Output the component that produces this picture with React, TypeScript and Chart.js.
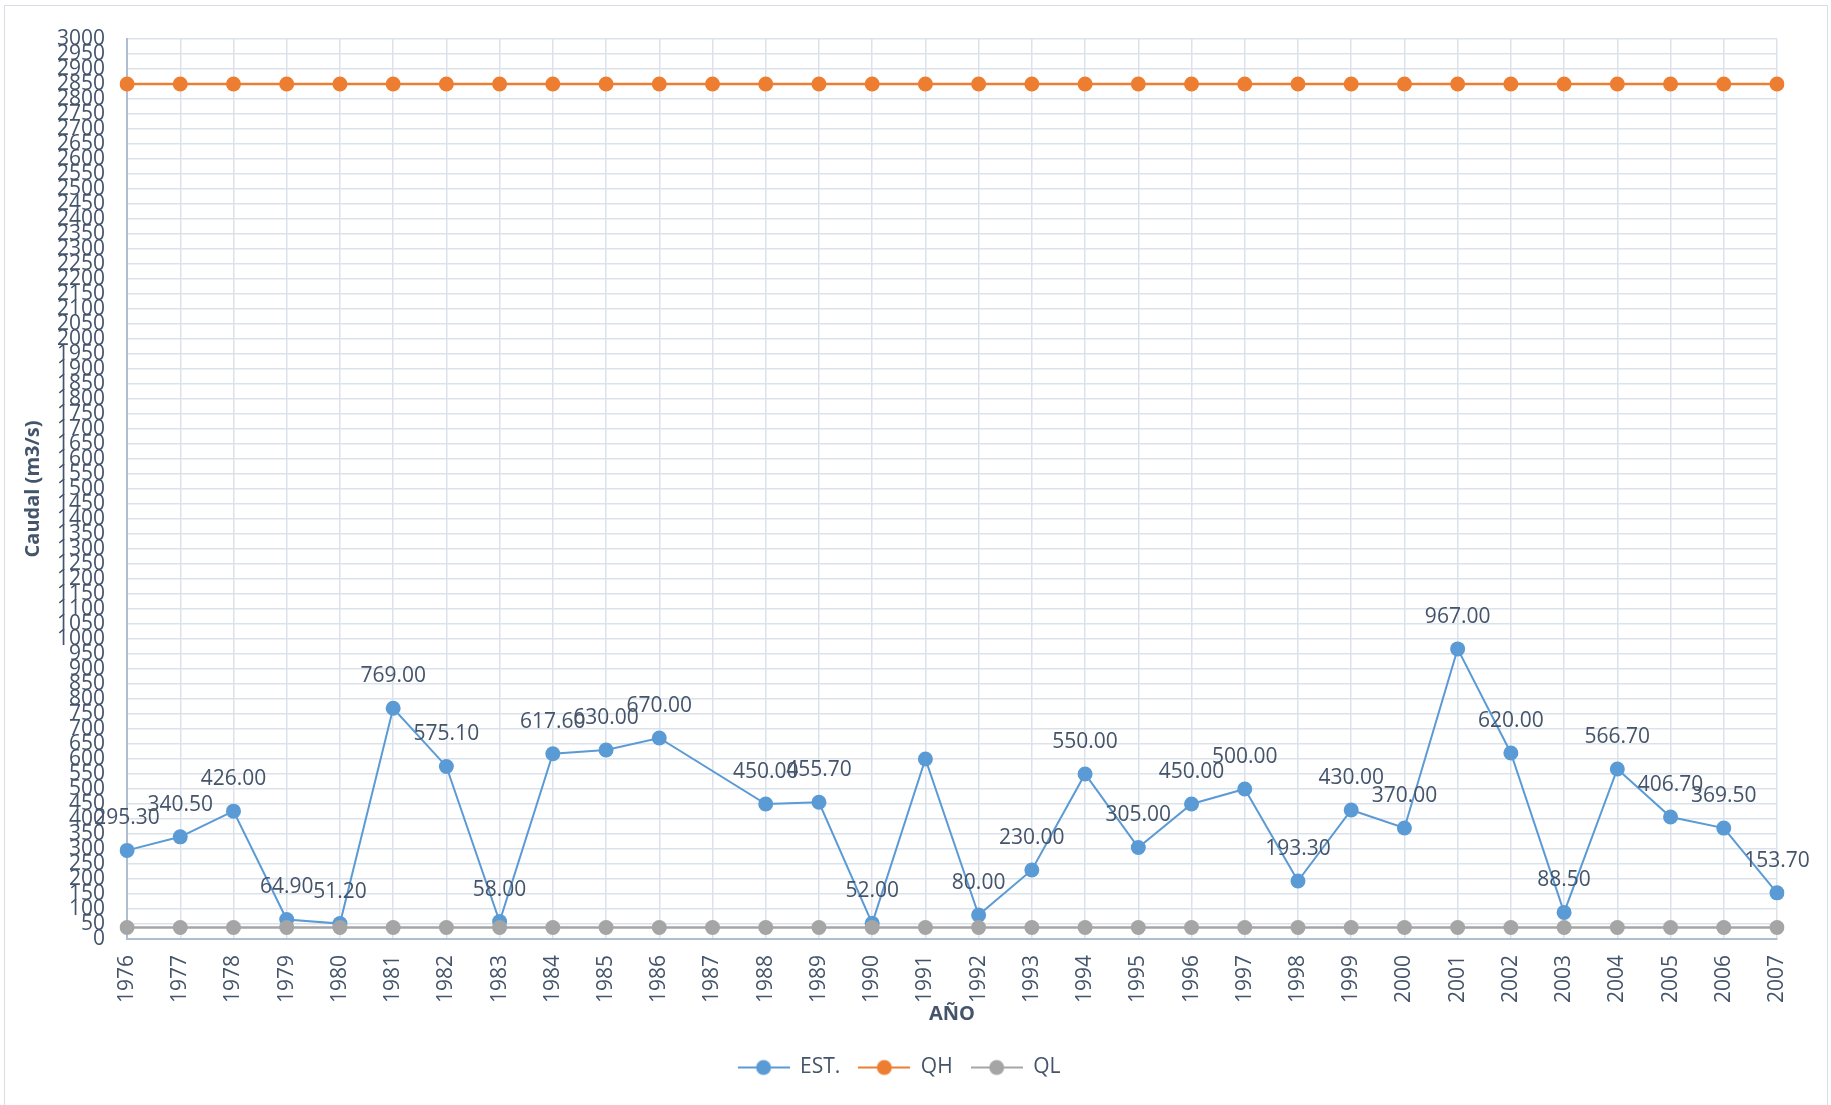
import { useEffect, useRef } from 'react';
import { Chart, registerables } from 'chart.js';

Chart.register(...registerables);

const years = [
  '1976', '1977', '1978', '1979', '1980', '1981', '1982', '1983', '1984', '1985', '1986',
  '1987', '1988', '1989', '1990', '1991', '1992', '1993', '1994', '1995', '1996', '1997',
  '1998', '1999', '2000', '2001', '2002', '2003', '2004', '2005', '2006', '2007',
];

const estValues: (number | null)[] = [
  295.3, 340.5, 426.0, 64.9, 51.2, 769.0, 575.1, 58.0, 617.6, 630.0, 670.0,
  null, 450.0, 455.7, 52.0, 600.0, 80.0, 230.0, 550.0, 305.0, 450.0, 500.0,
  193.3, 430.0, 370.0, 967.0, 620.0, 88.5, 566.7, 406.7, 369.5, 153.7,
];

const qhValues = [
  2850, 2850, 2850, 2850, 2850, 2850, 2850, 2850, 2850, 2850, 2850,
  2850, 2850, 2850, 2850, 2850, 2850, 2850, 2850, 2850, 2850, 2850,
  2850, 2850, 2850, 2850, 2850, 2850, 2850, 2850, 2850, 2850,
];

const qlValues = [
  38, 38, 38, 38, 38, 38, 38, 38, 38, 38, 38,
  38, 38, 38, 38, 38, 38, 38, 38, 38, 38, 38,
  38, 38, 38, 38, 38, 38, 38, 38, 38, 38,
];

const hiddenLabelYears = ['1991'];

const seriesNames = ['EST.', 'QH', 'QL'];
const seriesColors = ['#5b9bd5', '#ed7d31', '#a5a5a5'];

const yMin = 0;
const yMax = 3000;
const yStep = 50;

const yTitle = 'Caudal (m3/s)';
const xTitle = 'AÑO';

const FONT = "'Open Sans', sans-serif";
const TEXT = '#44546a';

function makeLegendIcon(color: string): HTMLCanvasElement {
  const c = document.createElement('canvas');
  c.width = 52;
  c.height = 18;
  const ctx = c.getContext('2d')!;
  ctx.strokeStyle = color;
  ctx.lineWidth = 2;
  ctx.beginPath();
  ctx.moveTo(0, 9);
  ctx.lineTo(52, 9);
  ctx.stroke();
  ctx.fillStyle = color;
  ctx.beginPath();
  ctx.arc(26, 9, 7.5, 0, Math.PI * 2);
  ctx.fill();
  return c;
}

const dataLabelPlugin = {
  id: 'estDataLabels',
  afterDatasetsDraw(chart: any) {
    const meta = chart.getDatasetMeta(0);
    if (!meta || meta.hidden) return;
    const ctx = chart.ctx;
    ctx.save();
    ctx.font = `21px ${FONT}`;
    ctx.fillStyle = TEXT;
    ctx.textAlign = 'center';
    ctx.textBaseline = 'middle';
    meta.data.forEach((pt: any, i: number) => {
      const v = estValues[i];
      if (v === null || v === undefined) return;
      if (hiddenLabelYears.includes(years[i])) return;
      ctx.fillText(v.toFixed(2), pt.x, pt.y - 32);
    });
    ctx.restore();
  },
};

export default function App() {
  const canvasRef = useRef<HTMLCanvasElement | null>(null);

  useEffect(() => {
    const canvas = canvasRef.current;
    if (!canvas) return;
    const icons = seriesColors.map(makeLegendIcon);
    const values = [estValues, qhValues, qlValues];
    const orders = [3, 2, 1];
    const widths = [2, 2.5, 2.5];

    const chart = new Chart(canvas, {
      type: 'line',
      data: {
        labels: years,
        datasets: seriesNames.map((name, i) => ({
          label: name,
          data: values[i],
          borderColor: seriesColors[i],
          backgroundColor: seriesColors[i],
          pointBackgroundColor: seriesColors[i],
          pointBorderColor: seriesColors[i],
          borderWidth: widths[i],
          pointRadius: 7.5,
          pointHoverRadius: 7.5,
          pointBorderWidth: 0,
          pointStyle: 'circle',
          spanGaps: true,
          tension: 0,
          fill: false,
          order: orders[i],
        })),
      },
      options: {
        animation: false,
        responsive: false,
        maintainAspectRatio: false,
        layout: { padding: { left: 21, right: 54, top: 39, bottom: 17 } },
        plugins: {
          tooltip: { enabled: false },
          legend: {
            position: 'bottom',
            labels: {
              usePointStyle: true,
              pointStyleWidth: 52,
              boxHeight: 18,
              padding: 18,
              color: TEXT,
              font: { family: FONT, size: 21 },
              sort: (a: any, b: any) => a.datasetIndex - b.datasetIndex,
              generateLabels: (ch: any) =>
                ch.data.datasets.map((ds: any, i: number) => ({
                  text: ds.label,
                  fillStyle: seriesColors[i],
                  strokeStyle: seriesColors[i],
                  lineWidth: 0,
                  pointStyle: icons[i],
                  hidden: !ch.isDatasetVisible(i),
                  datasetIndex: i,
                  fontColor: TEXT,
                })),
            },
          },
        },
        scales: {
          x: {
            offset: false,
            grid: { color: '#dce2ea', lineWidth: 1.5, drawTicks: false },
            border: { color: '#b0bccf', width: 2 },
            ticks: {
              autoSkip: false,
              minRotation: 90,
              maxRotation: 90,
              padding: 16,
              color: TEXT,
              font: { family: FONT, size: 21 },
            },
            title: {
              display: true,
              text: xTitle,
              color: TEXT,
              font: { family: FONT, size: 20, weight: 'bold' },
              padding: { top: -17, bottom: 13 },
            },
          },
          y: {
            min: yMin,
            max: yMax,
            grid: { color: '#dce2ea', lineWidth: 1.5, drawTicks: false },
            border: { color: '#b0bccf', width: 2 },
            ticks: {
              stepSize: yStep,
              autoSkip: false,
              padding: 22,
              color: TEXT,
              font: { family: FONT, size: 21, lineHeight: 1 },
              callback: (v: any) => String(v),
            },
            title: {
              display: true,
              text: yTitle,
              color: TEXT,
              font: { family: FONT, size: 20, weight: 'bold' },
              padding: { top: 0, bottom: -10 },
            },
          },
        },
      },
      plugins: [dataLabelPlugin],
    } as any);

    return () => chart.destroy();
  }, []);

  return (
    <div style={{ position: 'fixed', left: 0, top: 0, width: 1831, height: 1105, background: '#ffffff' }}>
      <div
        style={{
          position: 'absolute',
          left: 4,
          top: 5,
          width: 1824,
          height: 1110,
          border: '1px solid #d9dee6',
          boxSizing: 'border-box',
        }}
      />
      <canvas
        ref={canvasRef}
        width={1831}
        height={1105}
        style={{ position: 'absolute', left: 0, top: 0, width: 1831, height: 1105 }}
      />
    </div>
  );
}
